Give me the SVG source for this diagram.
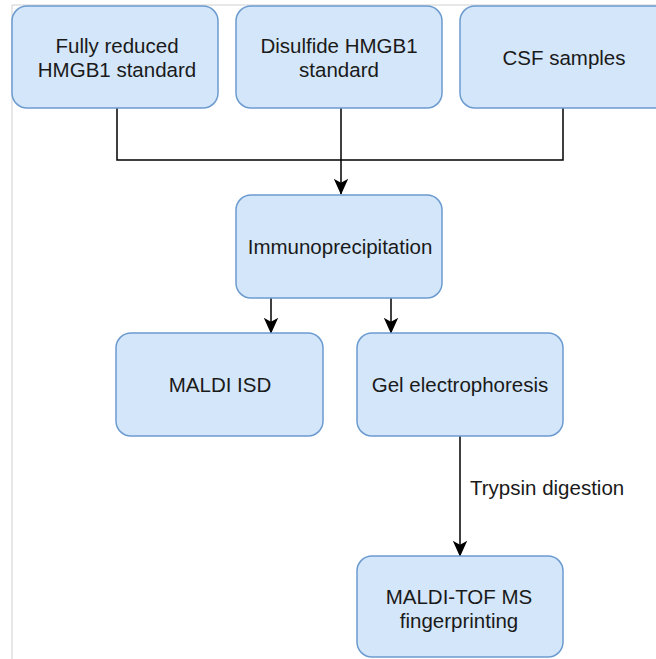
<svg xmlns="http://www.w3.org/2000/svg" width="656" height="659" viewBox="0 0 656 659">
<defs>
<style>
.box{fill:#d4e6f9;stroke:#6c9bd0;stroke-width:1.5}
.t{font-family:"Liberation Sans",Arial,sans-serif;font-size:20.5px;fill:#1a1a1a;text-anchor:middle}
.c{fill:none;stroke:#000;stroke-width:1.5}
</style>
<marker id="arr" viewBox="0 0 10 10" refX="9.5" refY="5" markerWidth="16" markerHeight="16" markerUnits="userSpaceOnUse" orient="auto">
<path d="M0,0.5 L10,5 L0,9.5 L2.5,5 Z" fill="#000"/>
</marker>
</defs>
<rect width="656" height="659" fill="#fff"/>
<path d="M12,659 V5 H656" fill="none" stroke="#d0d0d0" stroke-width="1"/>
<g id="connectors">
<path class="c" d="M117,108 V160 H563 V108"/>
<path class="c" d="M341,108 V194" marker-end="url(#arr)"/>
<path class="c" d="M288,297 H271 V333" marker-end="url(#arr)"/>
<path class="c" d="M391,298 V333" marker-end="url(#arr)"/>
<path class="c" d="M460,436 V556" marker-end="url(#arr)"/>
<text class="t" x="470" y="495" style="text-anchor:start">Trypsin digestion</text>
</g>
<g id="n1"><rect class="box" x="12" y="6" width="206" height="102" rx="15"/><text class="t" x="117" y="53">Fully reduced</text><text class="t" x="117" y="77">HMGB1 standard</text></g>
<g id="n2"><rect class="box" x="236" y="6" width="206" height="102" rx="15"/><text class="t" x="339" y="53">Disulfide HMGB1</text><text class="t" x="339" y="77">standard</text></g>
<g id="n3"><rect class="box" x="460" y="6" width="210" height="102" rx="15"/><text class="t" x="564" y="65">CSF samples</text></g>
<g id="n4"><rect class="box" x="236" y="195" width="206" height="103" rx="15"/><text class="t" x="340" y="254">Immunoprecipitation</text></g>
<g id="n5"><rect class="box" x="116" y="333" width="207" height="103" rx="15"/><text class="t" x="220" y="392">MALDI ISD</text></g>
<g id="n6"><rect class="box" x="357" y="333" width="206" height="103" rx="15"/><text class="t" x="460" y="392">Gel electrophoresis</text></g>
<g id="n7"><rect class="box" x="357" y="556" width="206" height="101" rx="15"/><text class="t" x="459" y="604">MALDI-TOF MS</text><text class="t" x="459" y="628">fingerprinting</text></g>
</svg>
